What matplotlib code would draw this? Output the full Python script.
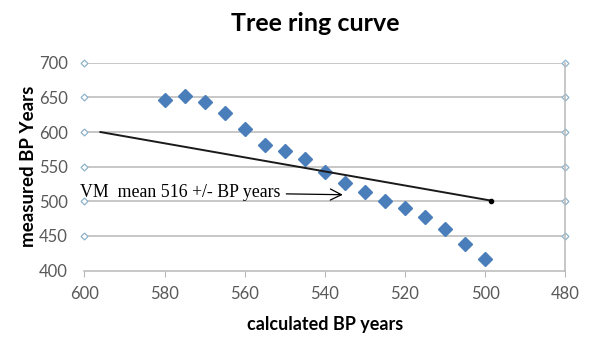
import numpy as np
import matplotlib.pyplot as plt

# data
calc_years = [580, 575, 570, 565, 560, 555, 550, 545, 540, 535, 530, 525, 520, 515, 510, 505, 500]
meas_years = [646, 652, 644, 627, 604, 582, 573, 561, 542, 527, 514, 501, 491, 477, 460, 439, 417]
mean_line_x = [596, 498.5]
mean_line_y = [600, 501]
grid_y = [450, 500, 550, 600, 650, 700]
x_ticks = [600, 580, 560, 540, 520, 500, 480]
y_ticks = [400, 450, 500, 550, 600, 650, 700]

fig = plt.figure(figsize=(5.9, 3.46), dpi=100)
ax = fig.add_axes([0.143, 0.218, 0.815, 0.6006])

# horizontal gridlines with small open diamonds at both ends
for gy in grid_y:
    ax.plot([600, 480], [gy, gy], color='#b8b8b8', lw=1.1, zorder=1)
    ax.plot([600, 480], [gy, gy], ls='none', marker='D', ms=3.5,
            mfc='white', mec='#8fb3cc', mew=0.9, zorder=2, clip_on=False)

ax.plot(calc_years, meas_years, ls='none', marker='D', ms=7,
        color='#4a7ebb', zorder=3)
ax.plot(mean_line_x, mean_line_y, color='#1a1a1a', lw=1.4, zorder=4)
ax.plot(mean_line_x[1], mean_line_y[1], 'o', color='black', ms=3, zorder=5)

ax.annotate('VM  mean 516 +/- BP years', xy=(535.5, 509.5), xytext=(601, 513),
            fontsize=12.8, family='Liberation Serif', va='center', ha='left',
            arrowprops=dict(arrowstyle='->', color='black', lw=0.9,
                            mutation_scale=20, shrinkA=2, shrinkB=0),
            zorder=6)

ax.set_xlim(600, 480)
ax.set_ylim(400, 700)
ax.set_xticks(x_ticks)
ax.set_yticks(y_ticks)
ax.tick_params(axis='x', colors='#b8b8b8', labelcolor='#595959', labelsize=12,
               length=4, pad=7)
ax.tick_params(axis='y', length=0, labelcolor='#595959', labelsize=12, pad=12)
for lab in ax.get_xticklabels() + ax.get_yticklabels():
    lab.set_family('Lato')

for s in ['top', 'left']:
    ax.spines[s].set_visible(False)
ax.spines['bottom'].set_color('#b8b8b8')
ax.spines['right'].set_color('#b8b8b8')
ax.spines['bottom'].set_linewidth(1.1)
ax.spines['right'].set_linewidth(1.1)

ax.set_xlabel('calculated BP years', family='Lato', fontweight='bold',
              fontsize=13, labelpad=10)
ax.set_ylabel('measured BP Years', family='Lato', fontweight='bold',
              fontsize=13.5, labelpad=1)
fig.text(0.535, 0.932, 'Tree ring curve', family='Lato', fontweight='bold',
         fontsize=18, ha='center', va='center')

fig.savefig('out.png', dpi=100)
